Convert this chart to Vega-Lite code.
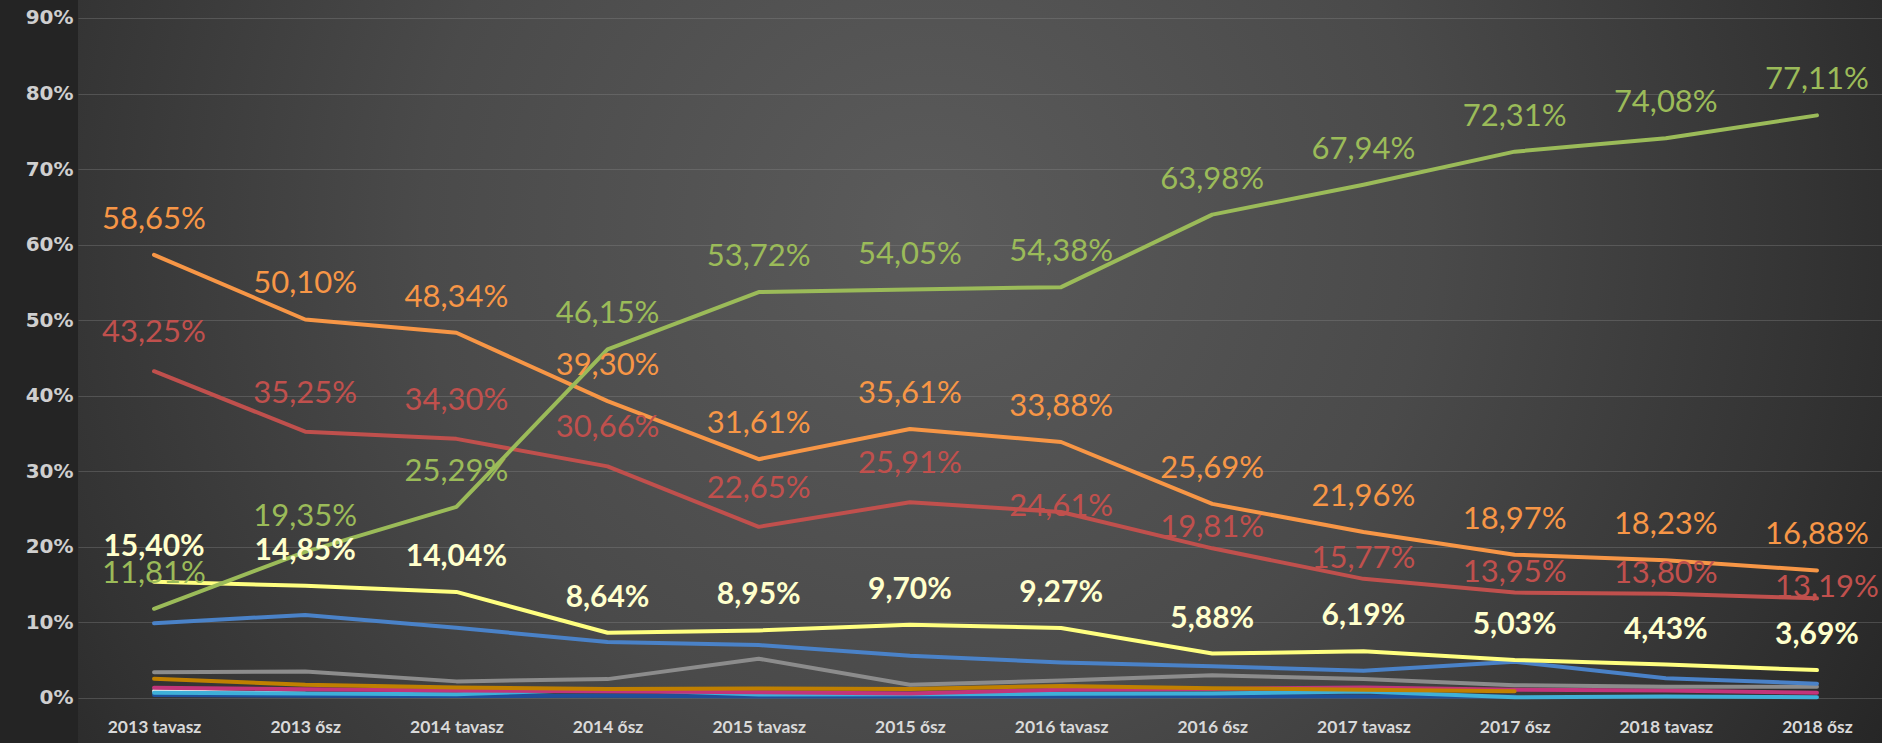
{
  "$schema": "https://vega.github.io/schema/vega-lite/v6.json",
  "width": 1804,
  "height": 743,
  "autosize": "none",
  "padding": {"left": 78, "top": 0, "right": 0, "bottom": 0},
  "background": "#242424",
  "config": {
    "locale": {"number": {"decimal": ",", "thousands": " ", "grouping": [3], "currency": ["", " Ft"]}},
    "view": {
      "stroke": null,
      "fill": {
        "gradient": "radial",
        "x1": 0.47, "y1": 0.42, "r1": 0,
        "x2": 0.47, "y2": 0.42, "r2": 0.62,
        "stops": [
          {"offset": 0, "color": "#5b5b5b"},
          {"offset": 0.45, "color": "#4a4a4a"},
          {"offset": 0.8, "color": "#333333"},
          {"offset": 1, "color": "#242424"}
        ]
      }
    },
    "axis": {"domain": false, "ticks": false}
  },
  "datasets": {
    "d": [
      {"p": "2013 tavasz", "s": "Fehér", "v": 0.0093},
      {"p": "2013 ősz", "s": "Fehér", "v": 0.0055},

      {"p": "2013 tavasz", "s": "Sötétkék", "v": 0.004},
      {"p": "2013 ősz", "s": "Sötétkék", "v": 0.003},
      {"p": "2014 tavasz", "s": "Sötétkék", "v": 0.0025},
      {"p": "2014 ősz", "s": "Sötétkék", "v": 0.003},
      {"p": "2015 tavasz", "s": "Sötétkék", "v": 0.002},
      {"p": "2015 ősz", "s": "Sötétkék", "v": 0.002},
      {"p": "2016 tavasz", "s": "Sötétkék", "v": 0.002},
      {"p": "2016 ősz", "s": "Sötétkék", "v": 0.0025},
      {"p": "2017 tavasz", "s": "Sötétkék", "v": 0.002},
      {"p": "2017 ősz", "s": "Sötétkék", "v": 0.002},

      {"p": "2013 tavasz", "s": "Cián", "v": 0.007},
      {"p": "2013 ősz", "s": "Cián", "v": 0.006},
      {"p": "2014 tavasz", "s": "Cián", "v": 0.005},
      {"p": "2014 ősz", "s": "Cián", "v": 0.0115},
      {"p": "2015 tavasz", "s": "Cián", "v": 0.0045},
      {"p": "2015 ősz", "s": "Cián", "v": 0.005},
      {"p": "2016 tavasz", "s": "Cián", "v": 0.0055},
      {"p": "2016 ősz", "s": "Cián", "v": 0.006},
      {"p": "2017 tavasz", "s": "Cián", "v": 0.0085},
      {"p": "2017 ősz", "s": "Cián", "v": 0.001},
      {"p": "2018 tavasz", "s": "Cián", "v": 0.002},
      {"p": "2018 ősz", "s": "Cián", "v": 0.001},

      {"p": "2013 tavasz", "s": "Bíbor", "v": 0.0137},
      {"p": "2013 ősz", "s": "Bíbor", "v": 0.0115},
      {"p": "2014 tavasz", "s": "Bíbor", "v": 0.010},
      {"p": "2014 ősz", "s": "Bíbor", "v": 0.009},
      {"p": "2015 tavasz", "s": "Bíbor", "v": 0.0075},
      {"p": "2015 ősz", "s": "Bíbor", "v": 0.006},
      {"p": "2016 tavasz", "s": "Bíbor", "v": 0.011},
      {"p": "2016 ősz", "s": "Bíbor", "v": 0.012},
      {"p": "2017 tavasz", "s": "Bíbor", "v": 0.014},
      {"p": "2017 ősz", "s": "Bíbor", "v": 0.011},
      {"p": "2018 tavasz", "s": "Bíbor", "v": 0.010},
      {"p": "2018 ősz", "s": "Bíbor", "v": 0.007},

      {"p": "2013 tavasz", "s": "Barna", "v": 0.0255},
      {"p": "2013 ősz", "s": "Barna", "v": 0.0175},
      {"p": "2014 tavasz", "s": "Barna", "v": 0.014},
      {"p": "2014 ősz", "s": "Barna", "v": 0.012},
      {"p": "2015 tavasz", "s": "Barna", "v": 0.0125},
      {"p": "2015 ősz", "s": "Barna", "v": 0.012},
      {"p": "2016 tavasz", "s": "Barna", "v": 0.016},
      {"p": "2016 ősz", "s": "Barna", "v": 0.013},
      {"p": "2017 tavasz", "s": "Barna", "v": 0.011},
      {"p": "2017 ősz", "s": "Barna", "v": 0.009},

      {"p": "2013 tavasz", "s": "Szürke", "v": 0.034},
      {"p": "2013 ősz", "s": "Szürke", "v": 0.035},
      {"p": "2014 tavasz", "s": "Szürke", "v": 0.022},
      {"p": "2014 ősz", "s": "Szürke", "v": 0.025},
      {"p": "2015 tavasz", "s": "Szürke", "v": 0.052},
      {"p": "2015 ősz", "s": "Szürke", "v": 0.0175},
      {"p": "2016 tavasz", "s": "Szürke", "v": 0.023},
      {"p": "2016 ősz", "s": "Szürke", "v": 0.030},
      {"p": "2017 tavasz", "s": "Szürke", "v": 0.025},
      {"p": "2017 ősz", "s": "Szürke", "v": 0.017},
      {"p": "2018 tavasz", "s": "Szürke", "v": 0.015},
      {"p": "2018 ősz", "s": "Szürke", "v": 0.015},

      {"p": "2013 tavasz", "s": "Kék", "v": 0.099},
      {"p": "2013 ősz", "s": "Kék", "v": 0.110},
      {"p": "2014 tavasz", "s": "Kék", "v": 0.093},
      {"p": "2014 ősz", "s": "Kék", "v": 0.074},
      {"p": "2015 tavasz", "s": "Kék", "v": 0.070},
      {"p": "2015 ősz", "s": "Kék", "v": 0.056},
      {"p": "2016 tavasz", "s": "Kék", "v": 0.047},
      {"p": "2016 ősz", "s": "Kék", "v": 0.042},
      {"p": "2017 tavasz", "s": "Kék", "v": 0.036},
      {"p": "2017 ősz", "s": "Kék", "v": 0.048},
      {"p": "2018 tavasz", "s": "Kék", "v": 0.026},
      {"p": "2018 ősz", "s": "Kék", "v": 0.019},

      {"p": "2013 tavasz", "s": "Sárga", "v": 0.1540},
      {"p": "2013 ősz", "s": "Sárga", "v": 0.1485},
      {"p": "2014 tavasz", "s": "Sárga", "v": 0.1404},
      {"p": "2014 ősz", "s": "Sárga", "v": 0.0864},
      {"p": "2015 tavasz", "s": "Sárga", "v": 0.0895},
      {"p": "2015 ősz", "s": "Sárga", "v": 0.0970},
      {"p": "2016 tavasz", "s": "Sárga", "v": 0.0927},
      {"p": "2016 ősz", "s": "Sárga", "v": 0.0588},
      {"p": "2017 tavasz", "s": "Sárga", "v": 0.0619},
      {"p": "2017 ősz", "s": "Sárga", "v": 0.0503},
      {"p": "2018 tavasz", "s": "Sárga", "v": 0.0443},
      {"p": "2018 ősz", "s": "Sárga", "v": 0.0369},

      {"p": "2013 tavasz", "s": "Piros", "v": 0.4325},
      {"p": "2013 ősz", "s": "Piros", "v": 0.3525},
      {"p": "2014 tavasz", "s": "Piros", "v": 0.3430},
      {"p": "2014 ősz", "s": "Piros", "v": 0.3066},
      {"p": "2015 tavasz", "s": "Piros", "v": 0.2265},
      {"p": "2015 ősz", "s": "Piros", "v": 0.2591},
      {"p": "2016 tavasz", "s": "Piros", "v": 0.2461},
      {"p": "2016 ősz", "s": "Piros", "v": 0.1981},
      {"p": "2017 tavasz", "s": "Piros", "v": 0.1577},
      {"p": "2017 ősz", "s": "Piros", "v": 0.1395},
      {"p": "2018 tavasz", "s": "Piros", "v": 0.1380},
      {"p": "2018 ősz", "s": "Piros", "v": 0.1319},

      {"p": "2013 tavasz", "s": "Narancs", "v": 0.5865},
      {"p": "2013 ősz", "s": "Narancs", "v": 0.5010},
      {"p": "2014 tavasz", "s": "Narancs", "v": 0.4834},
      {"p": "2014 ősz", "s": "Narancs", "v": 0.3930},
      {"p": "2015 tavasz", "s": "Narancs", "v": 0.3161},
      {"p": "2015 ősz", "s": "Narancs", "v": 0.3561},
      {"p": "2016 tavasz", "s": "Narancs", "v": 0.3388},
      {"p": "2016 ősz", "s": "Narancs", "v": 0.2569},
      {"p": "2017 tavasz", "s": "Narancs", "v": 0.2196},
      {"p": "2017 ősz", "s": "Narancs", "v": 0.1897},
      {"p": "2018 tavasz", "s": "Narancs", "v": 0.1823},
      {"p": "2018 ősz", "s": "Narancs", "v": 0.1688},

      {"p": "2013 tavasz", "s": "Zöld", "v": 0.1181},
      {"p": "2013 ősz", "s": "Zöld", "v": 0.1935},
      {"p": "2014 tavasz", "s": "Zöld", "v": 0.2529},
      {"p": "2014 ősz", "s": "Zöld", "v": 0.4615},
      {"p": "2015 tavasz", "s": "Zöld", "v": 0.5372},
      {"p": "2015 ősz", "s": "Zöld", "v": 0.5405},
      {"p": "2016 tavasz", "s": "Zöld", "v": 0.5438},
      {"p": "2016 ősz", "s": "Zöld", "v": 0.6398},
      {"p": "2017 tavasz", "s": "Zöld", "v": 0.6794},
      {"p": "2017 ősz", "s": "Zöld", "v": 0.7231},
      {"p": "2018 tavasz", "s": "Zöld", "v": 0.7408},
      {"p": "2018 ősz", "s": "Zöld", "v": 0.7711}
    ]
  },
  "data": {"name": "d"},
  "encoding": {
    "x": {
      "field": "p",
      "type": "nominal",
      "scale": {
        "type": "point",
        "domain": ["2013 tavasz", "2013 ősz", "2014 tavasz", "2014 ősz", "2015 tavasz", "2015 ősz", "2016 tavasz", "2016 ősz", "2017 tavasz", "2017 ősz", "2018 tavasz", "2018 ősz"],
        "padding": 0.4665,
        "align": 0.539
      },
      "axis": {
        "title": null,
        "labelAngle": 0,
        "grid": false,
        "offset": -45,
        "labelFont": "Lato",
        "labelFontSize": 17.5,
        "labelFontWeight": "bold",
        "labelColor": "#d9d9d9",
        "labelPadding": 20
      }
    },
    "y": {
      "field": "v",
      "type": "quantitative",
      "scale": {"domain": [-0.05956, 0.92382], "nice": false, "zero": false},
      "axis": {
        "title": null,
        "values": [0, 0.1, 0.2, 0.3, 0.4, 0.5, 0.6, 0.7, 0.8, 0.9],
        "format": ".0%",
        "grid": true,
        "gridColor": "#8a8a8a",
        "gridOpacity": 0.35,
        "gridWidth": 1,
        "labelFont": "DejaVu Sans",
        "labelFontSize": 20,
        "labelFontWeight": "bold",
        "labelColor": "#cfcfcf",
        "labelPadding": 5
      }
    }
  },
  "layer": [
    {
      "mark": {"type": "line", "strokeWidth": 4, "strokeJoin": "round", "strokeCap": "round"},
      "encoding": {
        "color": {
          "field": "s",
          "type": "nominal",
          "legend": null,
          "scale": {
            "domain": ["Fehér", "Sötétkék", "Cián", "Bíbor", "Barna", "Szürke", "Kék", "Sárga", "Piros", "Narancs", "Zöld"],
            "range": ["#eeeeee", "#1f4f99", "#3fb0d8", "#c2357a", "#c08000", "#8c8c8c", "#4a82c8", "#ffff80", "#c0504d", "#f79646", "#9bbb59"]
          }
        }
      }
    },
    {
      "transform": [{"filter": "datum.s === 'Zöld'"}],
      "mark": {"type": "text", "font": "Lato", "fontSize": 31, "align": "center", "baseline": "alphabetic", "dy": -26, "color": "#9bbb59"},
      "encoding": {"text": {"field": "v", "type": "quantitative", "format": ".2%"}}
    },
    {
      "transform": [{"filter": "datum.s === 'Narancs'"}],
      "mark": {"type": "text", "font": "Lato", "fontSize": 31, "align": "center", "baseline": "alphabetic", "dy": -26, "color": "#f79646"},
      "encoding": {"text": {"field": "v", "type": "quantitative", "format": ".2%"}}
    },
    {
      "transform": [{"filter": "datum.s === 'Sárga'"}],
      "mark": {"type": "text", "font": "Lato", "fontSize": 30, "fontWeight": "bold", "align": "center", "baseline": "alphabetic", "dy": -26, "color": "#ffffcc"},
      "encoding": {"text": {"field": "v", "type": "quantitative", "format": ".2%"}}
    },
    {
      "transform": [{"filter": "datum.s === 'Piros' && indexof(['2013 tavasz','2013 ősz','2014 tavasz','2014 ősz','2015 tavasz','2015 ősz'], datum.p) >= 0"}],
      "mark": {"type": "text", "font": "Lato", "fontSize": 31, "align": "center", "baseline": "alphabetic", "dy": -29, "color": "#c0504d"},
      "encoding": {"text": {"field": "v", "type": "quantitative", "format": ".2%"}}
    },
    {
      "transform": [{"filter": "datum.s === 'Piros' && datum.p === '2016 tavasz'"}],
      "mark": {"type": "text", "font": "Lato", "fontSize": 31, "align": "center", "baseline": "alphabetic", "dy": 4, "color": "#c0504d"},
      "encoding": {"text": {"field": "v", "type": "quantitative", "format": ".2%"}}
    },
    {
      "transform": [{"filter": "datum.s === 'Piros' && indexof(['2016 ősz','2017 tavasz','2017 ősz','2018 tavasz'], datum.p) >= 0"}],
      "mark": {"type": "text", "font": "Lato", "fontSize": 31, "align": "center", "baseline": "alphabetic", "dy": -11, "color": "#c0504d"},
      "encoding": {"text": {"field": "v", "type": "quantitative", "format": ".2%"}}
    },
    {
      "transform": [{"filter": "datum.s === 'Piros' && datum.p === '2018 ősz'"}],
      "mark": {"type": "text", "font": "Lato", "fontSize": 31, "align": "center", "baseline": "alphabetic", "dx": 10, "dy": -1, "color": "#c0504d"},
      "encoding": {"text": {"field": "v", "type": "quantitative", "format": ".2%"}}
    }
  ]
}
